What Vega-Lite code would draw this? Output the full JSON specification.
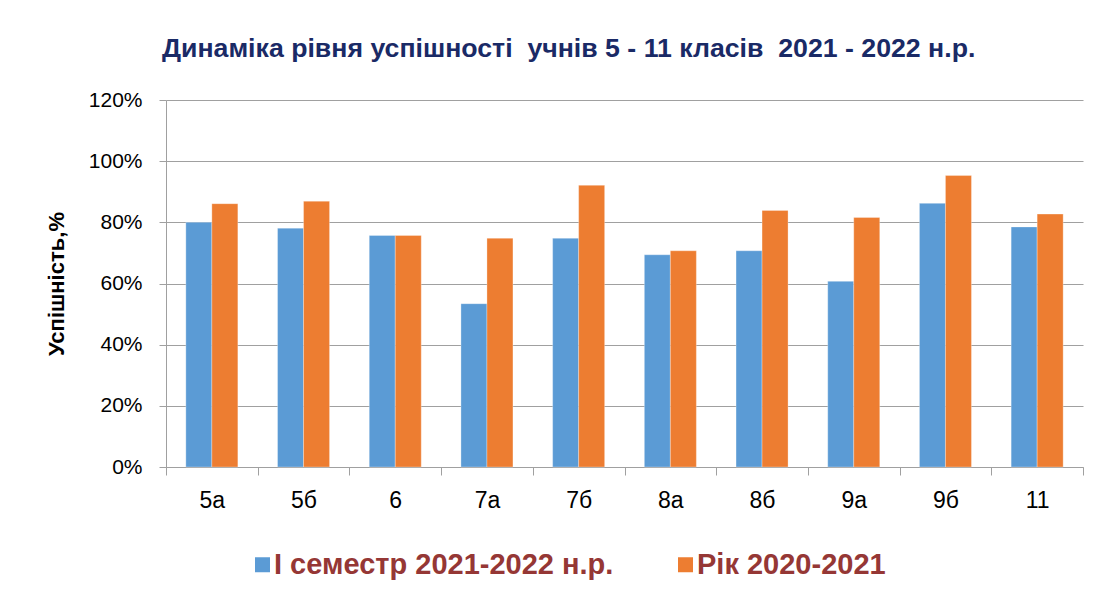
{
  "$schema": "https://vega.github.io/schema/vega-lite/v6.json",
  "autosize": {"type": "none"},
  "width": 917,
  "height": 367,
  "padding": {"left": 166, "top": 100, "right": 13, "bottom": 131},
  "background": "white",
  "title": {
    "text": "Динаміка рівня успішності \u00a0учнів 5 - 11 класів \u00a02021 - 2022 н.р.",
    "anchor": "start",
    "frame": "group",
    "dx": -4,
    "offset": 26,
    "font": "Liberation Sans",
    "fontSize": 26.7,
    "fontWeight": "bold",
    "color": "#1a2a66"
  },
  "data": {
    "values": [
      {"class": "5а", "series": "І семестр 2021-2022 н.р.", "value": 80.0},
      {"class": "5а", "series": "Рік 2020-2021", "value": 86.1},
      {"class": "5б", "series": "І семестр 2021-2022 н.р.", "value": 78.1},
      {"class": "5б", "series": "Рік 2020-2021", "value": 86.9},
      {"class": "6", "series": "І семестр 2021-2022 н.р.", "value": 75.7},
      {"class": "6", "series": "Рік 2020-2021", "value": 75.7},
      {"class": "7а", "series": "І семестр 2021-2022 н.р.", "value": 53.4},
      {"class": "7а", "series": "Рік 2020-2021", "value": 74.8},
      {"class": "7б", "series": "І семестр 2021-2022 н.р.", "value": 74.8},
      {"class": "7б", "series": "Рік 2020-2021", "value": 92.1},
      {"class": "8а", "series": "І семестр 2021-2022 н.р.", "value": 69.4},
      {"class": "8а", "series": "Рік 2020-2021", "value": 70.7},
      {"class": "8б", "series": "І семестр 2021-2022 н.р.", "value": 70.7},
      {"class": "8б", "series": "Рік 2020-2021", "value": 83.9},
      {"class": "9а", "series": "І семестр 2021-2022 н.р.", "value": 60.7},
      {"class": "9а", "series": "Рік 2020-2021", "value": 81.6},
      {"class": "9б", "series": "І семестр 2021-2022 н.р.", "value": 86.2},
      {"class": "9б", "series": "Рік 2020-2021", "value": 95.3},
      {"class": "11", "series": "І семестр 2021-2022 н.р.", "value": 78.5},
      {"class": "11", "series": "Рік 2020-2021", "value": 82.7}
    ]
  },
  "mark": {"type": "bar", "stroke": "#ffffff", "strokeOpacity": 0.5, "strokeWidth": 0.6},
  "encoding": {
    "x": {
      "field": "class",
      "type": "nominal",
      "sort": null,
      "scale": {"paddingInner": 0, "paddingOuter": 0},
      "axis": {
        "title": null,
        "tickBand": "extent",
        "labelAngle": 0,
        "labelFont": "Liberation Sans",
        "labelFontSize": 23,
        "labelColor": "#000000",
        "labelPadding": 14,
        "tickSize": 8,
        "tickColor": "#a0a0a0",
        "domainColor": "#a0a0a0",
        "grid": false
      }
    },
    "xOffset": {
      "field": "series",
      "type": "nominal",
      "sort": ["І семестр 2021-2022 н.р.", "Рік 2020-2021"],
      "scale": {"paddingInner": 0, "paddingOuter": 0.763}
    },
    "y": {
      "field": "value",
      "type": "quantitative",
      "scale": {"domain": [0, 120], "nice": false},
      "axis": {
        "title": "Успішність,%",
        "titleFont": "Liberation Sans",
        "titleFontSize": 22,
        "titleFontWeight": "bold",
        "titleColor": "#000000",
        "titlePadding": 20,
        "values": [0, 20, 40, 60, 80, 100, 120],
        "labelExpr": "datum.value + '%'",
        "labelFont": "Liberation Sans",
        "labelFontSize": 21,
        "labelColor": "#000000",
        "labelPadding": 17,
        "tickSize": 7,
        "tickColor": "#a0a0a0",
        "domainColor": "#a0a0a0",
        "gridColor": "#a0a0a0",
        "gridWidth": 1
      }
    },
    "color": {
      "field": "series",
      "type": "nominal",
      "sort": ["І семестр 2021-2022 н.р.", "Рік 2020-2021"],
      "scale": {"range": ["#5b9bd5", "#ed7d31"]},
      "legend": {
        "title": null,
        "orient": "none",
        "direction": "horizontal",
        "legendX": 82,
        "legendY": 450,
        "symbolType": "square",
        "symbolSize": 225,
        "symbolStrokeWidth": 0,
        "labelOffset": -3,
        "columnPadding": 57,
        "labelFont": "Liberation Sans",
        "labelFontSize": 29,
        "labelFontWeight": "bold",
        "labelColor": "#953735",
        "labelLimit": 600
      }
    }
  },
  "config": {"view": {"stroke": null}}
}
